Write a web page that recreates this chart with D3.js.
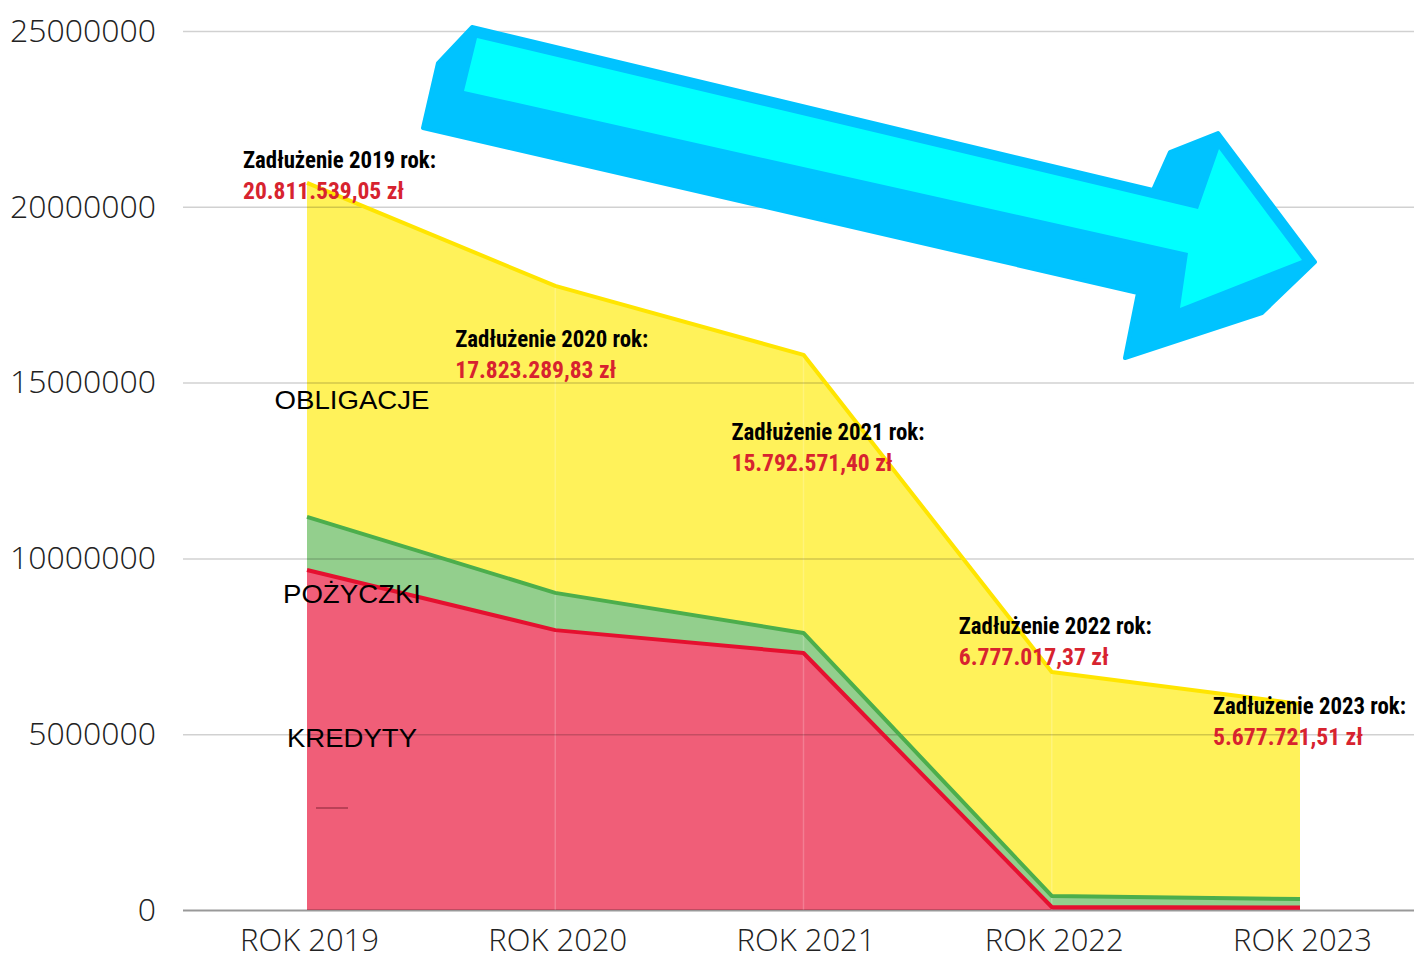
<!DOCTYPE html>
<html>
<head>
<meta charset="utf-8">
<script src="https://cdn.jsdelivr.net/npm/d3@7"></script>
<style>
  body { margin: 0; background: #fff; }
  #graph { width: 1414px; height: 953px; }
  .axis text { font-family: "Open Sans", sans-serif; font-weight: 300; fill: #222; }
  .axis path { display: none; }
  .note { font-family: "Liberation Sans Narrow", "Roboto Condensed", "Arial Narrow", sans-serif; font-weight: bold; font-size: 23px; }
  .series { font-family: "Liberation Sans", Arial, sans-serif; font-size: 25px; fill: #000; }
</style>
</head>
<body>
<div id="graph"></div>
<script>
// data (PLN)
var years = ["ROK 2019", "ROK 2020", "ROK 2021", "ROK 2022", "ROK 2023"];
var kredyty   = [9670000, 7960000, 7310000, 85000, 70000];
var pozyczki  = [1510000, 1060000, 570000, 315000, 240000];
var obligacje = [9500000, 8730000, 7910000, 6370000, 5550000];
var totals = ["20.811.539,05 zł", "17.823.289,83 zł", "15.792.571,40 zł", "6.777.017,37 zł", "5.677.721,51 zł"];
var noteYears = ["2019", "2020", "2021", "2022", "2023"];
var yTicks = [0, 5000000, 10000000, 15000000, 20000000, 25000000];

var width = 1414, height = 953;
var padLeft = 183, padTop = 31, baseY = 910;

var svg = d3.select("#graph")
    .append("svg")
    .attr("width", width)
    .attr("height", height);

var xScale = d3.scalePoint().domain(years).range([307, 1300]);
var yScale = d3.scaleLinear().domain([0, 25000000]).range([baseY, padTop]);

// stacked table
var keys = ["kredyty", "pozyczki", "obligacje"];
var table = years.map(function(y, i) {
    return {year: y, kredyty: kredyty[i], pozyczki: pozyczki[i], obligacje: obligacje[i]};
});
var stacked = d3.stack().keys(keys)(table);

var fills = {kredyty: "#f05e78", pozyczki: "#93cf8d", obligacje: "#fff25a"};
var strokes = {kredyty: "#e5102f", pozyczki: "#4cae4c", obligacje: "#ffe500"};

var area = d3.area()
    .x(function(d) { return xScale(d.data.year); })
    .y0(function(d) { return yScale(d[0]); })
    .y1(function(d) { return yScale(d[1]); });

var topLine = d3.line()
    .x(function(d) { return xScale(d.data.year); })
    .y(function(d) { return yScale(d[1]); });

svg.append("g").selectAll("path")
    .data(stacked)
    .enter().append("path")
    .attr("d", area)
    .attr("fill", function(d) { return fills[d.key]; });

// faint seams at each year
svg.append("g").selectAll("line")
    .data(table.slice(1, 4))
    .enter().append("line")
    .attr("x1", function(d) { return xScale(d.year); })
    .attr("x2", function(d) { return xScale(d.year); })
    .attr("y1", function(d) { return yScale(d.kredyty + d.pozyczki + d.obligacje); })
    .attr("y2", baseY)
    .attr("stroke", "#fff")
    .attr("stroke-opacity", 0.2)
    .attr("stroke-width", 1.5);

// y axis with gridlines
var yAxis = d3.axisLeft(yScale)
    .tickValues(yTicks)
    .tickFormat(d3.format("d"))
    .tickSize(-(width - padLeft))
    .tickPadding(27);

var gy = svg.append("g")
    .attr("class", "axis axis--y")
    .attr("transform", "translate(" + padLeft + ",0)")
    .call(yAxis);
gy.selectAll("line")
    .attr("stroke", "#000")
    .attr("stroke-opacity", function(d) { return d === 0 ? 0.4 : 0.18; })
    .attr("stroke-width", function(d) { return d === 0 ? 2 : 1.5; });
gy.selectAll("text").style("font-size", "32px");

svg.append("g").selectAll("path")
    .data(stacked)
    .enter().append("path")
    .attr("d", topLine)
    .attr("fill", "none")
    .attr("stroke", function(d) { return strokes[d.key]; })
    .attr("stroke-width", 4)
    .attr("stroke-linejoin", "round");

// x axis
var xAxis = d3.axisBottom(xScale).tickSize(0).tickPadding(19);
var gx = svg.append("g")
    .attr("class", "axis axis--x")
    .attr("transform", "translate(2," + baseY + ")")
    .call(xAxis);
gx.selectAll("text").style("font-size", "31px");

// stray legend dash
svg.append("line")
    .attr("x1", 316).attr("x2", 348)
    .attr("y1", 808).attr("y2", 808)
    .attr("stroke", "#a8384c")
    .attr("stroke-width", 1.5);

// series names
var seriesNames = ["KREDYTY", "POŻYCZKI", "OBLIGACJE"];
var seriesY = [4885000, 8990000, 14490000];
var seriesWidth = [130, 138, 155];
svg.append("g").selectAll("text")
    .data(seriesNames)
    .enter().append("text")
    .attr("class", "series")
    .attr("x", 352)
    .attr("y", function(d, i) { return yScale(seriesY[i]); })
    .attr("text-anchor", "middle")
    .attr("dy", "0.35em")
    .attr("textLength", function(d, i) { return seriesWidth[i]; })
    .attr("lengthAdjust", "spacingAndGlyphs")
    .text(function(d) { return d; });

// totals annotations
var noteDx = [-64, -100, -72, -93, -87];
var noteVal = [21100000, 16010000, 13355000, 7864000, 5565000];
var notes = svg.append("g").selectAll("g")
    .data(noteYears)
    .enter().append("g")
    .attr("transform", function(d, i) {
        return "translate(" + (xScale(years[i]) + noteDx[i]) + "," + yScale(noteVal[i]) + ")";
    });
notes.append("text")
    .attr("class", "note")
    .attr("fill", "#000")
    .attr("textLength", 193)
    .attr("lengthAdjust", "spacingAndGlyphs")
    .text(function(d) { return "Zadłużenie " + d + " rok:"; });
notes.append("text")
    .attr("class", "note")
    .attr("fill", "#d7232f")
    .attr("y", 31)
    .attr("textLength", function(d, i) { return i < 3 ? 161 : 150; })
    .attr("lengthAdjust", "spacingAndGlyphs")
    .text(function(d, i) { return totals[i]; });

// big 3D arrow (decoration)
var arrowBack = [[472, 27], [438, 63], [423, 128], [1138, 293], [1125, 358], [1262, 313],
    [1315, 262], [1218, 133], [1170, 152], [1153, 190]];
var arrowFace = [[477, 38], [464, 91], [1188, 253], [1180, 308], [1302, 260],
    [1219, 149], [1198, 209]];
var arrowLine = d3.line().curve(d3.curveLinearClosed);
svg.append("path")
    .attr("d", arrowLine(arrowBack))
    .attr("fill", "#00c3ff")
    .attr("stroke", "#00c3ff")
    .attr("stroke-width", 4)
    .attr("stroke-linejoin", "round");
svg.append("path")
    .attr("d", arrowLine(arrowFace))
    .attr("fill", "#00ffff");
</script>
</body>
</html>
